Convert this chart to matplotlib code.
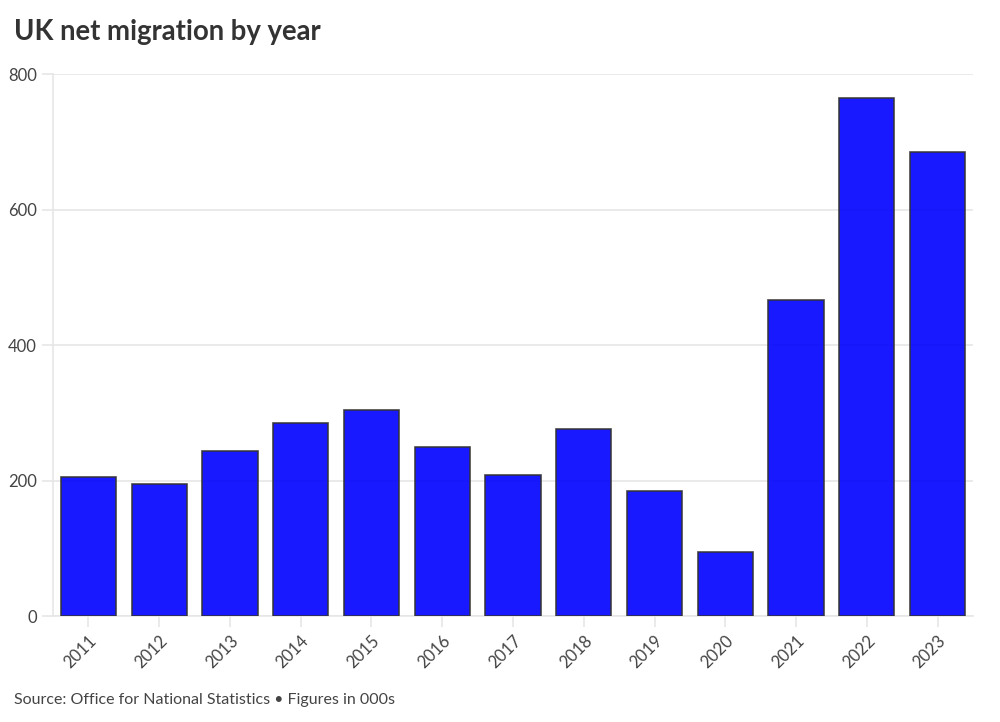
import matplotlib
matplotlib.use("Agg")
import matplotlib.pyplot as plt

# ------------------------------------------------------------------ data
years = ["2011", "2012", "2013", "2014", "2015", "2016", "2017",
         "2018", "2019", "2020", "2021", "2022", "2023"]
net_migration = [205, 195, 244, 285, 304, 249, 208, 276, 184, 94, 466, 764, 685]
y_ticks = [0, 200, 400, 600, 800]

# ------------------------------------------------------------------ style
plt.rcParams.update({
    "font.family": ["Lato", "DejaVu Sans"],
})
BAR = "#0000ff"
GRID = "#e6e6e6"
TEXT = "#444444"

fig = plt.figure(figsize=(10, 7.22), dpi=100)
ax = fig.add_axes([0.053, 0.1468, 0.92, 0.7507])

x = range(len(years))
ax.bar(x, net_migration, width=0.78, color=BAR, alpha=0.9,
       edgecolor="#333333", linewidth=1.2, zorder=3)

ax.set_xlim(-0.5, len(years) - 0.5)
ax.set_ylim(0, 800)
ax.set_yticks(y_ticks)
ax.set_xticks(list(x))
ax.set_xticklabels(years, rotation=45, ha="right", rotation_mode="anchor")

ax.grid(axis="y", color=GRID, lw=1.2, zorder=0)
for s in ["top", "right"]:
    ax.spines[s].set_visible(False)
for s in ["left", "bottom"]:
    ax.spines[s].set_color(GRID)
    ax.spines[s].set_linewidth(1.2)
ax.tick_params(axis="both", colors=GRID, length=8, width=1.2,
               labelcolor=TEXT, labelsize=12)
ax.tick_params(axis="x", pad=4)

fig.text(0.014, 0.945, "UK net migration by year", fontsize=19.8,
         fontweight="bold", color="#333333", ha="left", va="baseline")
fig.text(0.014, 0.025, "Source: Office for National Statistics \u2022 Figures in 000s",
         fontsize=11.5, color=TEXT, ha="left", va="baseline")

fig.savefig("out.png", dpi=100)
